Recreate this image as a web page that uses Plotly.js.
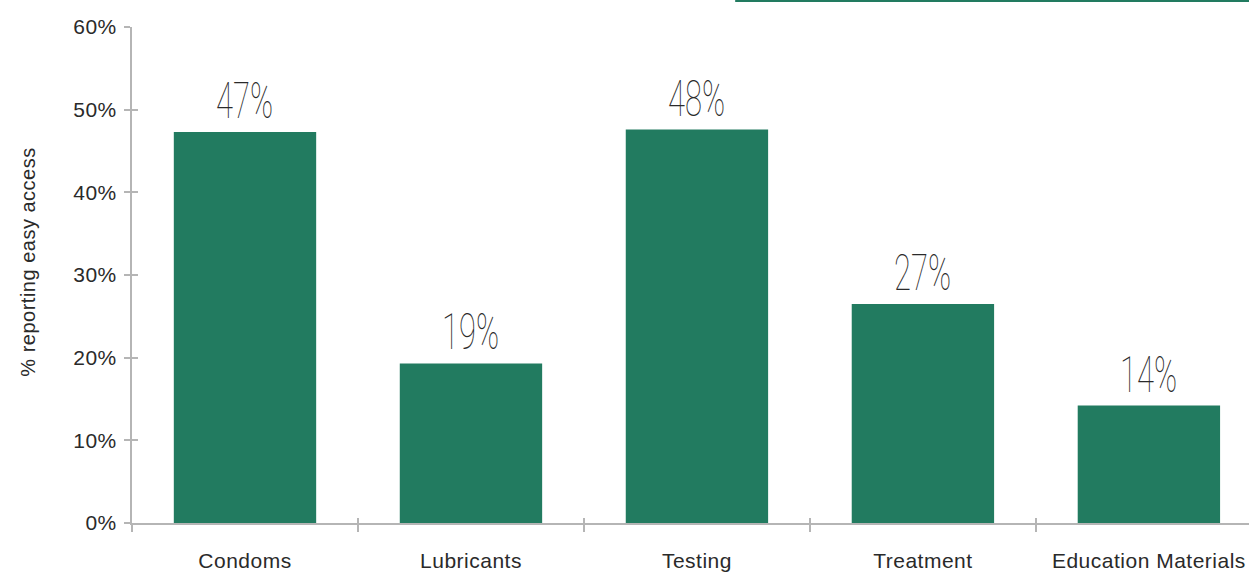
<!DOCTYPE html>
<html>
<head>
<meta charset="utf-8">
<script src="https://cdn.plot.ly/plotly-3.0.1.min.js"></script>
<style>
  html, body { margin: 0; padding: 0; background: #fff; }
  #chart { width: 1249px; height: 572px; }
  .annotation-text { transform-box: fill-box; transform-origin: center; transform: scaleX(0.62); }
  .xtick text, .ytick text, .g-ytitle text { letter-spacing: 0.5px; }
  .g-ytitle { transform: translateY(-13px); }
</style>
</head>
<body>
<div id="chart"></div>
<script>
const categories = ["Condoms", "Lubricants", "Testing", "Treatment", "Education Materials"];
const values = [47.3, 19.3, 47.6, 26.5, 14.2];
const valueLabels = ["47%", "19%", "48%", "27%", "14%"];
const yTickSuffix = "%";

const barColor = "#227b60";
const axisColor = "#b5b5b5";
const textColor = "#2a2a2a";

const traces = [
  {
    type: "bar",
    x: categories,
    y: values,
    marker: { color: barColor },
    hoverinfo: "skip",
    xaxis: "x",
    yaxis: "y"
  },
  {
    type: "bar",
    x: categories,
    y: values,
    marker: { color: barColor },
    opacity: 0,
    hoverinfo: "skip",
    showlegend: false,
    xaxis: "x2",
    yaxis: "y2"
  }
];

const annotations = categories.map((c, i) => ({
  x: c,
  y: values[i],
  xref: "x",
  yref: "y",
  text: valueLabels[i],
  showarrow: false,
  yanchor: "bottom",
  yshift: 0,
  font: { family: "Roboto, 'Liberation Sans', sans-serif", size: 50, weight: 100, color: textColor }
}));

const xRange = [-0.5, 4.443];

const layout = {
  width: 1249,
  height: 572,
  margin: { l: 132, r: 0, t: 27, b: 49, pad: 0 },
  paper_bgcolor: "#fff",
  plot_bgcolor: "#fff",
  showlegend: false,
  bargap: 0.37,
  font: { family: "'Liberation Sans', Arial, sans-serif", color: textColor, size: 21 },
  xaxis: {
    type: "category",
    range: xRange,
    showline: true,
    linecolor: axisColor,
    linewidth: 2,
    ticks: "outside",
    tickson: "boundaries",
    ticklen: 7,
    tickwidth: 2,
    tickcolor: axisColor,
    showgrid: false,
    zeroline: false,
    ticklabelstandoff: 18,
    tickfont: { size: 21, color: textColor },
    fixedrange: true
  },
  yaxis: {
    range: [0, 60],
    dtick: 10,
    ticksuffix: yTickSuffix,
    showline: true,
    linecolor: axisColor,
    linewidth: 2,
    ticks: "outside",
    ticklen: 6,
    tickwidth: 2,
    tickcolor: axisColor,
    showgrid: false,
    zeroline: false,
    ticklabelstandoff: 3,
    tickfont: { size: 21, color: textColor },
    title: { text: "% reporting easy access", font: { size: 20, color: textColor }, standoff: 32 },
    automargin: false,
    fixedrange: true
  },
  xaxis2: {
    type: "category",
    overlaying: "x",
    range: xRange,
    ticks: "inside",
    tickson: "boundaries",
    ticklen: 5,
    tickwidth: 2,
    tickcolor: axisColor,
    showticklabels: false,
    showline: false,
    showgrid: false,
    zeroline: false,
    fixedrange: true
  },
  yaxis2: {
    overlaying: "y",
    range: [0, 60],
    dtick: 10,
    ticks: "inside",
    ticklen: 6,
    tickwidth: 2,
    tickcolor: axisColor,
    showticklabels: false,
    showline: false,
    showgrid: false,
    zeroline: false,
    fixedrange: true
  },
  annotations: annotations,
  shapes: [
    {
      type: "line",
      xref: "paper",
      yref: "paper",
      x0: 0.54,
      x1: 1.0,
      y0: 1.0524,
      y1: 1.0524,
      line: { color: barColor, width: 2 }
    }
  ]
};

Plotly.newPlot("chart", traces, layout, { displayModeBar: false, staticPlot: true });
</script>
</body>
</html>
